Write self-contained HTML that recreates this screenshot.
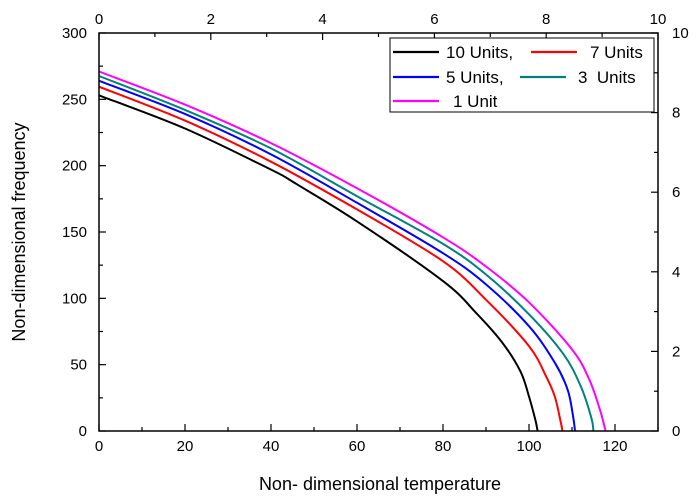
<!DOCTYPE html>
<html><head><meta charset="utf-8"><style>
html,body{margin:0;padding:0;background:#fff;width:697px;height:501px;overflow:hidden}
svg{font-family:"Liberation Sans",Arial,sans-serif}
</style></head><body>
<svg id="chart" width="697" height="501"></svg>
<script>
const xTicks=[0,20,40,60,80,100,120];
const yTicks=[0,50,100,150,200,250,300];
const topTicks=[0,2,4,6,8,10];
const rightTicks=[0,2,4,6,8,10];
const names=["10 Units","7 Units","5 Units","3 Units","1 Unit"];
const colors=["#000000","#ff0000","#0000ff","#008080","#ff00ff"];
const tBlack=[0,20,40,44,46,60,80,87.7,93.7,98,100,101.5,102];
const fBlack=[253,228,197,190,186,158,113,89,67,45,26,8,0];
const tRed=[0,20,40,60,80,90,100,104,106,107.3,107.8];
const fRed=[259.5,234,203,167,128,99,64,41,26,8,0];
const tBlue=[0,20,40,60,80,90,100,106,109,110.3,110.7];
const fBlue=[264,239,208.5,172,134,110.5,79,51.5,31,10,0];
const tTeal=[0,20,40,60,80,90,100,108,112,114.5,115];
const fTeal=[267.6,242,213,177,141,118,88,58,34,10,0];
const tMag=[0,20,40,60,80,90,100,110,114,116.5,117.5,117.8];
const fMag=[271,246,217,183,146,124,97,61.5,39,16,4,0];
const seriesT=[tBlack,tRed,tBlue,tTeal,tMag];
const seriesF=[fBlack,fRed,fBlue,fTeal,fMag];

const L=99,R=658,T=33,B=431;
const xs=v=>L+(v/130)*(R-L);
const ys=v=>B-(v/300)*(B-T);
const xTop=v=>L+(v/10)*(R-L);
const yRight=v=>B-(v/10)*(B-T);
const svg=document.getElementById('chart');
const NS="http://www.w3.org/2000/svg";
function mk(tag,attrs,parent){const e=document.createElementNS(NS,tag);for(const k in attrs)e.setAttribute(k,attrs[k]);(parent||svg).appendChild(e);return e;}

// smooth path through points (Catmull-Rom rendering)
function smoothPath(pts){
  let d='M'+pts[0][0].toFixed(1)+','+pts[0][1].toFixed(1);
  for(let i=0;i<pts.length-1;i++){
    const p0=pts[Math.max(0,i-1)],p1=pts[i],p2=pts[i+1],p3=pts[Math.min(pts.length-1,i+2)];
    const c1=[p1[0]+(p2[0]-p0[0])/6,p1[1]+(p2[1]-p0[1])/6];
    const c2=[p2[0]-(p3[0]-p1[0])/6,p2[1]-(p3[1]-p1[1])/6];
    d+=' C'+c1[0].toFixed(1)+','+c1[1].toFixed(1)+' '+c2[0].toFixed(1)+','+c2[1].toFixed(1)+' '+p2[0].toFixed(1)+','+p2[1].toFixed(1);
  }
  return d;
}

seriesT.forEach((ts,i)=>{
  const pts=ts.map((t,j)=>[xs(t),ys(seriesF[i][j])]);
  const p=mk('path',{d:smoothPath(pts),fill:'none',stroke:colors[i],'stroke-width':2});
  
  
});

const fr=mk('rect',{x:L,y:T,width:R-L,height:B-T,fill:'none',stroke:'#000','stroke-width':1.5});



for(let v=0;v<=130;v+=10){const x=xs(v);const len=(v%20===0)?7:4;
  mk('line',{x1:x,y1:B,x2:x,y2:B-len,stroke:'#000','stroke-width':1.2});}
xTicks.forEach(v=>{const t=mk('text',{x:xs(v),y:B+20,'font-size':15,'text-anchor':'middle'});t.textContent=v;
  
  });
for(let v=0;v<=300;v+=25){const y=ys(v);const len=(v%50===0)?7:4;
  mk('line',{x1:L,y1:y,x2:L+len,y2:y,stroke:'#000','stroke-width':1.2});}
yTicks.forEach(v=>{const t=mk('text',{x:L-12,y:ys(v)+5,'font-size':15,'text-anchor':'end'});t.textContent=v;
  
  });
for(let v=0;v<=10;v+=1){const x=xTop(v);const len=(v%2===0)?7:4;
  mk('line',{x1:x,y1:T,x2:x,y2:T+len,stroke:'#000','stroke-width':1.2});}
topTicks.forEach(v=>{const t=mk('text',{x:xTop(v),y:T-9,'font-size':15,'text-anchor':'middle'});t.textContent=v;
  
  });
for(let v=0;v<=10;v+=1){const y=yRight(v);const len=(v%2===0)?7:4;
  mk('line',{x1:R,y1:y,x2:R-len,y2:y,stroke:'#000','stroke-width':1.2});}
rightTicks.forEach(v=>{const t=mk('text',{x:R+14,y:yRight(v)+5,'font-size':15,'text-anchor':'start'});t.textContent=v;
  
  });

const xt=mk('text',{x:380,y:490,'font-size':18,'text-anchor':'middle'});xt.textContent='Non- dimensional temperature';


const yt=mk('text',{x:0,y:0,'font-size':18,'text-anchor':'middle',transform:'translate(25,232) rotate(-90)'});yt.textContent='Non-dimensional frequency';



const lg=mk('g',{});


mk('rect',{x:390,y:38,width:264,height:74,fill:'#fff',stroke:'#000','stroke-width':1},lg);
const entries=[[393,52,446,'10 Units,'],[531,52,590,'7 Units'],[393,77,446,'5 Units,'],[520,77,578,'3  Units'],[393,101,453,'1 Unit']];
entries.forEach((e,i)=>{
  const g=mk('g',{},lg);
  
  
  mk('line',{x1:e[0],y1:e[1],x2:e[0]+46,y2:e[1],stroke:colors[i],'stroke-width':2.2},g);
  const t=mk('text',{x:e[2],y:e[1]+6,'font-size':17},g);t.textContent=e[3];
  t.style.whiteSpace='pre';
});
</script>
</body></html>
